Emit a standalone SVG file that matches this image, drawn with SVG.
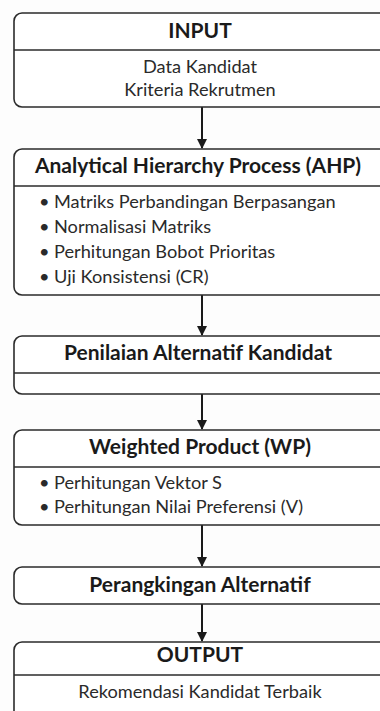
<svg xmlns="http://www.w3.org/2000/svg" width="380" height="711" viewBox="0 0 380 711">
<defs>
<marker id="ah" viewBox="0 0 10 10" refX="9" refY="5" markerWidth="5" markerHeight="5" orient="auto" markerUnits="strokeWidth">
<path d="M0,0 L10,5 L0,10 z" fill="#1a1a1a"/>
</marker>
<style>
.box{fill:#fff;stroke:#2b2b2b;stroke-width:1.6}
.div{stroke:#2b2b2b;stroke-width:1.6}
.t{font-family:Lato,"Open Sans",sans-serif;font-weight:bold;font-size:21px;fill:#1a1a1a;text-anchor:middle}
.b{font-family:Lato,"Open Sans",sans-serif;font-size:18.2px;fill:#2a2a2a}
.c{text-anchor:middle}
.conn{stroke:#1a1a1a;stroke-width:2;fill:none;marker-end:url(#ah)}
</style>
</defs>
<rect width="380" height="711" fill="#fdfdfd"/>
<g id="connectors">
<line class="conn" x1="202" y1="107" x2="202" y2="148"/>
<line class="conn" x1="202" y1="295" x2="202" y2="335"/>
<line class="conn" x1="202" y1="373" x2="202" y2="429"/>
<line class="conn" x1="202" y1="525" x2="202" y2="566"/>
<line class="conn" x1="202" y1="604" x2="202" y2="641"/>
</g>
<g id="input">
<rect class="box" x="14" y="13" width="390" height="94" rx="8"/>
<line class="div" x1="14" y1="50" x2="404" y2="50"/>
<text class="t" x="200" y="38">INPUT</text>
<text class="b c" x="200" y="73">Data Kandidat</text>
<text class="b c" x="200" y="96">Kriteria Rekrutmen</text>
</g>
<g id="ahp">
<rect class="box" x="14" y="149" width="390" height="146" rx="8"/>
<line class="div" x1="14" y1="186" x2="404" y2="186"/>
<text class="t" x="198" y="173">Analytical Hierarchy Process (AHP)</text>
<text class="b" x="39" y="208">•</text><text class="b" x="54" y="208">Matriks Perbandingan Berpasangan</text>
<text class="b" x="39" y="233">•</text><text class="b" x="54" y="233">Normalisasi Matriks</text>
<text class="b" x="39" y="258">•</text><text class="b" x="54" y="258">Perhitungan Bobot Prioritas</text>
<text class="b" x="39" y="283">•</text><text class="b" x="54" y="283">Uji Konsistensi (CR)</text>
</g>
<g id="penilaian">
<rect class="box" x="14" y="336" width="390" height="58" rx="8"/>
<line class="div" x1="14" y1="373" x2="404" y2="373"/>
<text class="t" x="198" y="360">Penilaian Alternatif Kandidat</text>
</g>
<g id="wp">
<rect class="box" x="14" y="430" width="390" height="95" rx="8"/>
<line class="div" x1="14" y1="467" x2="404" y2="467"/>
<text class="t" x="200" y="454">Weighted Product (WP)</text>
<text class="b" x="39" y="489">•</text><text class="b" x="54" y="489">Perhitungan Vektor S</text>
<text class="b" x="39" y="513">•</text><text class="b" x="54" y="513">Perhitungan Nilai Preferensi (V)</text>
</g>
<g id="ranking">
<rect class="box" x="14" y="567" width="390" height="37" rx="8"/>
<text class="t" x="200" y="592">Perangkingan Alternatif</text>
</g>
<g id="output">
<rect class="box" x="14" y="642" width="390" height="90" rx="8"/>
<line class="div" x1="14" y1="675" x2="404" y2="675"/>
<text class="t" x="200" y="662">OUTPUT</text>
<text class="b c" x="200" y="698">Rekomendasi Kandidat Terbaik</text>
</g>
</svg>
